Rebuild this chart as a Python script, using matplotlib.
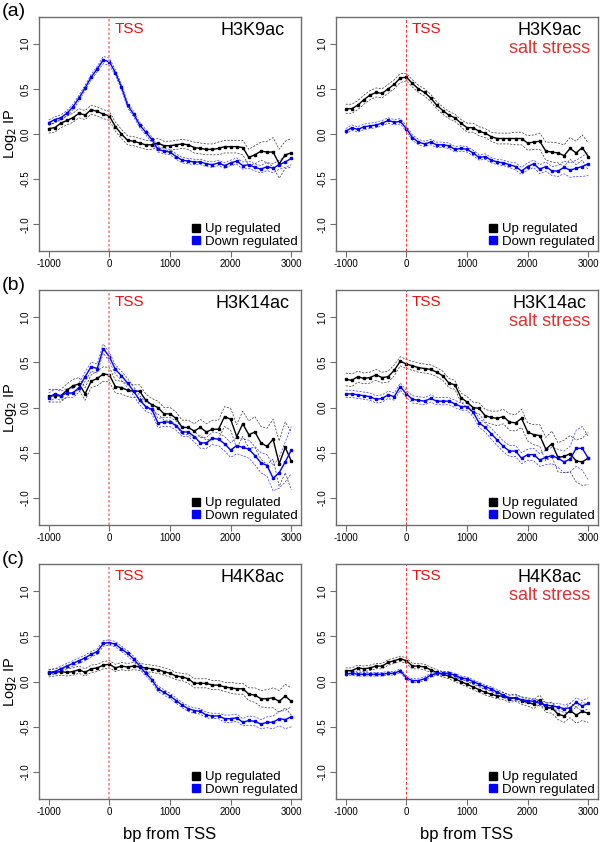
import matplotlib
matplotlib.use("Agg")
import matplotlib.pyplot as plt
from matplotlib.lines import Line2D
import numpy as np

plt.rcParams['font.family'] = ['Liberation Sans', 'DejaVu Sans']

# Positions relative to the TSS (bp)
bp = list(range(-1000, 3001, 100))

# (a) H3K9ac, control
a_up = [0.06, 0.07, 0.12, 0.15, 0.18, 0.23, 0.21, 0.27, 0.25, 0.22, 0.20, 0.08, 0.00, -0.07,
        -0.08, -0.10, -0.12, -0.12, -0.10, -0.13, -0.13, -0.12, -0.11, -0.12, -0.15, -0.16,
        -0.17, -0.17, -0.16, -0.14, -0.14, -0.14, -0.15, -0.26, -0.23, -0.19, -0.20, -0.20,
        -0.33, -0.23, -0.21]
a_up_se = [0.05, 0.05, 0.05, 0.05, 0.05, 0.05, 0.05, 0.05, 0.05, 0.05, 0.05, 0.05, 0.05, 0.05,
           0.05, 0.05, 0.05, 0.05, 0.05, 0.05, 0.05, 0.05, 0.05, 0.05, 0.06, 0.06, 0.06, 0.06,
           0.07, 0.07, 0.07, 0.07, 0.08, 0.09, 0.10, 0.10, 0.12, 0.16, 0.16, 0.15, 0.16]
a_down = [0.125, 0.16, 0.18, 0.23, 0.30, 0.40, 0.51, 0.63, 0.72, 0.82, 0.80, 0.68, 0.52, 0.32,
          0.22, 0.10, 0.02, -0.06, -0.17, -0.19, -0.20, -0.25, -0.29, -0.30, -0.31, -0.31,
          -0.33, -0.34, -0.32, -0.35, -0.32, -0.30, -0.35, -0.34, -0.37, -0.39, -0.36, -0.38,
          -0.34, -0.31, -0.27]
a_down_se = [0.03, 0.03, 0.03, 0.03, 0.03, 0.03, 0.03, 0.03, 0.03, 0.04, 0.04, 0.03, 0.03, 0.03,
             0.03, 0.03, 0.03, 0.03, 0.03, 0.03, 0.03, 0.03, 0.03, 0.03, 0.03, 0.03, 0.03, 0.03,
             0.03, 0.03, 0.03, 0.035, 0.04, 0.04, 0.04, 0.04, 0.045, 0.05, 0.05, 0.06, 0.07]

# (a) H3K9ac, salt stress
as_up = [0.28, 0.28, 0.32, 0.38, 0.43, 0.46, 0.45, 0.50, 0.55, 0.62, 0.63, 0.56, 0.50, 0.46,
         0.40, 0.32, 0.26, 0.21, 0.18, 0.12, 0.07, 0.07, 0.03, 0.01, -0.03, -0.05, -0.05, -0.05,
         -0.05, -0.05, -0.10, -0.09, -0.08, -0.19, -0.20, -0.21, -0.24, -0.16, -0.21, -0.15,
         -0.25]
as_up_se = [0.05, 0.05, 0.05, 0.05, 0.05, 0.05, 0.05, 0.05, 0.05, 0.05, 0.04, 0.04, 0.04, 0.04,
            0.04, 0.04, 0.04, 0.04, 0.04, 0.04, 0.05, 0.05, 0.05, 0.05, 0.05, 0.06, 0.06, 0.06,
            0.07, 0.07, 0.08, 0.08, 0.09, 0.10, 0.11, 0.11, 0.12, 0.12, 0.13, 0.14, 0.15]
as_down = [0.03, 0.07, 0.05, 0.08, 0.09, 0.10, 0.12, 0.15, 0.13, 0.14, 0.06, -0.04, -0.09,
           -0.11, -0.09, -0.12, -0.12, -0.13, -0.17, -0.16, -0.17, -0.21, -0.26, -0.25, -0.29,
           -0.31, -0.32, -0.34, -0.36, -0.41, -0.36, -0.33, -0.39, -0.36, -0.41, -0.41, -0.37,
           -0.40, -0.38, -0.36, -0.33]
as_down_se = [0.03, 0.03, 0.03, 0.03, 0.03, 0.03, 0.03, 0.03, 0.03, 0.03, 0.03, 0.03, 0.03, 0.03,
              0.03, 0.03, 0.03, 0.03, 0.03, 0.03, 0.03, 0.03, 0.03, 0.03, 0.03, 0.03, 0.03, 0.03,
              0.04, 0.04, 0.04, 0.04, 0.05, 0.05, 0.05, 0.06, 0.07, 0.08, 0.09, 0.11, 0.13]

# (b) H3K14ac, control
b_up = [0.13, 0.13, 0.13, 0.19, 0.24, 0.26, 0.15, 0.29, 0.32, 0.37, 0.36, 0.23, 0.22, 0.19,
        0.18, 0.18, 0.08, 0.03, 0.00, -0.07, -0.07, -0.12, -0.22, -0.22, -0.26, -0.22, -0.27,
        -0.24, -0.24, -0.10, -0.13, -0.32, -0.18, -0.30, -0.27, -0.39, -0.43, -0.35, -0.62,
        -0.44, -0.59]
b_up_se = [0.07, 0.07, 0.07, 0.07, 0.07, 0.07, 0.07, 0.07, 0.08, 0.08, 0.08, 0.07, 0.07, 0.07,
           0.07, 0.07, 0.07, 0.07, 0.07, 0.07, 0.07, 0.07, 0.08, 0.08, 0.08, 0.09, 0.09, 0.10,
           0.10, 0.11, 0.12, 0.13, 0.14, 0.15, 0.17, 0.18, 0.20, 0.22, 0.25, 0.28, 0.32]
b_down = [0.11, 0.15, 0.13, 0.16, 0.16, 0.22, 0.34, 0.45, 0.43, 0.65, 0.56, 0.42, 0.35, 0.27,
          0.18, 0.08, 0.01, -0.02, -0.17, -0.16, -0.16, -0.20, -0.27, -0.27, -0.32, -0.39,
          -0.39, -0.34, -0.35, -0.40, -0.47, -0.42, -0.44, -0.46, -0.53, -0.61, -0.64, -0.78,
          -0.72, -0.60, -0.47]
b_down_se = [0.05, 0.05, 0.05, 0.05, 0.05, 0.05, 0.05, 0.05, 0.05, 0.05, 0.05, 0.05, 0.05, 0.05,
             0.05, 0.05, 0.05, 0.05, 0.05, 0.05, 0.05, 0.05, 0.05, 0.05, 0.06, 0.06, 0.06, 0.07,
             0.07, 0.08, 0.08, 0.09, 0.09, 0.10, 0.10, 0.11, 0.12, 0.14, 0.17, 0.22, 0.26]

# (b) H3K14ac, salt stress
bs_up = [0.31, 0.30, 0.34, 0.32, 0.33, 0.36, 0.33, 0.34, 0.41, 0.51, 0.48, 0.46, 0.44, 0.43,
         0.42, 0.39, 0.35, 0.27, 0.25, 0.11, 0.06, 0.00, -0.01, -0.09, -0.11, -0.12, -0.10,
         -0.16, -0.17, -0.12, -0.27, -0.30, -0.31, -0.46, -0.40, -0.55, -0.54, -0.51, -0.59,
         -0.60, -0.56]
bs_up_se = [0.07, 0.07, 0.06, 0.06, 0.06, 0.06, 0.06, 0.06, 0.06, 0.05, 0.05, 0.05, 0.05, 0.05,
            0.05, 0.05, 0.05, 0.05, 0.05, 0.05, 0.06, 0.06, 0.06, 0.07, 0.07, 0.08, 0.08, 0.09,
            0.09, 0.10, 0.10, 0.11, 0.12, 0.13, 0.14, 0.16, 0.18, 0.20, 0.23, 0.26, 0.29]
bs_down = [0.15, 0.15, 0.14, 0.13, 0.12, 0.09, 0.10, 0.14, 0.12, 0.23, 0.15, 0.09, 0.08, 0.07,
           0.10, 0.07, 0.07, 0.07, 0.04, 0.01, 0.01, -0.05, -0.17, -0.22, -0.29, -0.36, -0.43,
           -0.48, -0.48, -0.56, -0.52, -0.52, -0.58, -0.55, -0.53, -0.56, -0.60, -0.57, -0.45,
           -0.45, -0.56]
bs_down_se = [0.04, 0.04, 0.04, 0.04, 0.04, 0.04, 0.04, 0.04, 0.04, 0.04, 0.04, 0.04, 0.04, 0.04,
              0.04, 0.04, 0.04, 0.04, 0.04, 0.04, 0.04, 0.05, 0.05, 0.05, 0.06, 0.06, 0.06, 0.06,
              0.06, 0.06, 0.06, 0.07, 0.07, 0.08, 0.09, 0.10, 0.12, 0.14, 0.20, 0.24, 0.24]

# (c) H4K8ac, control
c_up = [0.09, 0.10, 0.11, 0.10, 0.11, 0.13, 0.10, 0.14, 0.15, 0.18, 0.19, 0.15, 0.17, 0.16,
        0.17, 0.16, 0.15, 0.14, 0.13, 0.11, 0.09, 0.06, 0.05, 0.03, -0.02, -0.02, -0.02, -0.04,
        -0.04, -0.06, -0.07, -0.08, -0.08, -0.14, -0.15, -0.19, -0.19, -0.18, -0.22, -0.16,
        -0.22]
c_up_se = [0.04, 0.04, 0.04, 0.04, 0.04, 0.04, 0.04, 0.04, 0.04, 0.04, 0.04, 0.04, 0.04, 0.04,
           0.04, 0.04, 0.04, 0.04, 0.04, 0.04, 0.04, 0.04, 0.04, 0.05, 0.05, 0.05, 0.05, 0.05,
           0.05, 0.05, 0.06, 0.06, 0.06, 0.07, 0.08, 0.09, 0.10, 0.11, 0.12, 0.13, 0.15]
c_down = [0.10, 0.11, 0.14, 0.17, 0.20, 0.23, 0.26, 0.30, 0.33, 0.42, 0.43, 0.41, 0.36, 0.31,
          0.25, 0.17, 0.09, 0.02, -0.08, -0.12, -0.16, -0.21, -0.26, -0.30, -0.32, -0.33, -0.37,
          -0.38, -0.38, -0.41, -0.41, -0.40, -0.45, -0.43, -0.44, -0.47, -0.45, -0.45, -0.41,
          -0.42, -0.39]
c_down_se = [0.03, 0.03, 0.03, 0.03, 0.03, 0.03, 0.03, 0.03, 0.03, 0.03, 0.03, 0.03, 0.03, 0.03,
             0.03, 0.03, 0.03, 0.03, 0.03, 0.03, 0.03, 0.03, 0.03, 0.03, 0.03, 0.03, 0.03, 0.03,
             0.03, 0.04, 0.04, 0.04, 0.04, 0.05, 0.05, 0.05, 0.06, 0.07, 0.08, 0.10, 0.11]

# (c) H4K8ac, salt stress
cs_up = [0.12, 0.12, 0.15, 0.14, 0.15, 0.17, 0.17, 0.21, 0.23, 0.25, 0.23, 0.17, 0.17, 0.16,
         0.13, 0.10, 0.08, 0.06, 0.03, 0.00, -0.03, -0.06, -0.09, -0.12, -0.14, -0.16, -0.16,
         -0.19, -0.18, -0.21, -0.23, -0.25, -0.20, -0.29, -0.29, -0.36, -0.38, -0.32, -0.37,
         -0.33, -0.35]
cs_up_se = [0.03, 0.03, 0.03, 0.03, 0.03, 0.03, 0.03, 0.03, 0.03, 0.03, 0.03, 0.03, 0.03, 0.03,
            0.03, 0.03, 0.03, 0.03, 0.03, 0.03, 0.03, 0.03, 0.03, 0.03, 0.03, 0.03, 0.04, 0.04,
            0.04, 0.04, 0.04, 0.05, 0.05, 0.05, 0.06, 0.06, 0.07, 0.08, 0.09, 0.10, 0.10]
cs_down = [0.08, 0.09, 0.08, 0.08, 0.08, 0.08, 0.08, 0.09, 0.09, 0.12, 0.04, 0.01, 0.01, 0.03,
           0.07, 0.09, 0.09, 0.09, 0.07, 0.04, 0.03, 0.00, -0.03, -0.06, -0.08, -0.12, -0.15,
           -0.18, -0.18, -0.20, -0.21, -0.22, -0.24, -0.26, -0.27, -0.28, -0.30, -0.29, -0.23,
           -0.27, -0.24]
cs_down_se = [0.02, 0.02, 0.02, 0.02, 0.02, 0.02, 0.02, 0.02, 0.02, 0.02, 0.02, 0.02, 0.02, 0.02,
              0.02, 0.02, 0.02, 0.02, 0.02, 0.02, 0.02, 0.02, 0.02, 0.02, 0.02, 0.03, 0.03, 0.03,
              0.03, 0.03, 0.03, 0.03, 0.03, 0.03, 0.03, 0.04, 0.04, 0.05, 0.05, 0.06, 0.06]

panels = [
    ("(a)", "H3K9ac", False, a_up, a_up_se, a_down, a_down_se),
    (None, "H3K9ac", True, as_up, as_up_se, as_down, as_down_se),
    ("(b)", "H3K14ac", False, b_up, b_up_se, b_down, b_down_se),
    (None, "H3K14ac", True, bs_up, bs_up_se, bs_down, bs_down_se),
    ("(c)", "H4K8ac", False, c_up, c_up_se, c_down, c_down_se),
    (None, "H4K8ac", True, cs_up, cs_up_se, cs_down, cs_down_se),
]

BLUE = "#0000FF"
BOX = "#6e6e6e"

fig = plt.figure(figsize=(6.0, 8.42), dpi=100)

# axes boxes in figure pixels (left, top, right, bottom)
col_x = [(39, 301), (336, 598)]
row_y = [(17, 251), (290, 525), (564, 799)]

x = np.array(bp)
for i, (tag, mark, salt, up, up_se, down, down_se) in enumerate(panels):
    r, c = divmod(i, 2)
    l, rr = col_x[c]
    t, b = row_y[r]
    ax = fig.add_axes([l / 600, 1 - b / 842, (rr - l) / 600, (b - t) / 842])

    for vals, se, bcol in [(down, down_se, "#3333FF"), (up, up_se, "#333333")]:
        v = np.array(vals)
        s = np.array(se)
        ax.plot(x, v + s, color=bcol, lw=0.5, ls=(0, (3, 2)))
        ax.plot(x, v - s, color=bcol, lw=0.5, ls=(0, (3, 2)))
    ax.plot(x, up, color="black", lw=1.0, marker="s", ms=1.6)
    ax.plot(x, down, color=BLUE, lw=1.0, marker="s", ms=1.6)

    # TSS line
    if salt:
        ax.axvline(0, color="#FF3333", lw=0.7, ls=(0, (3, 2)))
    else:
        ax.axvline(0, color="#FF8080", lw=1.2, ls=(0, (1.5, 1.2)))
    ax.text(90, 1.16, "TSS", color="#EE1111", fontsize=11, ha="left", va="center")
    ax.text(2360, 1.15, mark, color="black", fontsize=13, ha="center", va="center")
    if salt:
        ax.text(2360, 0.95, "salt stress", color="#E03030", fontsize=13, ha="center", va="center")

    ax.set_xlim(-1160, 3160)
    ax.set_ylim(-1.296, 1.296)
    ax.set_xticks([-1000, 0, 1000, 2000, 3000])
    ax.set_xticklabels(["-1000", "0", "1000", "2000", "3000"])
    ax.set_yticks([-1.0, -0.5, 0.0, 0.5, 1.0])
    ax.set_yticklabels(["-1.0", "-0.5", "0.0", "0.5", "1.0"], rotation=90, va="center")
    ax.tick_params(labelsize=7, length=4, width=0.8, color=BOX, pad=2)
    for sp in ax.spines.values():
        sp.set_color(BOX)
        sp.set_linewidth(1.0)

    handles = [Line2D([], [], ls="none", marker="s", ms=6, color="black"),
               Line2D([], [], ls="none", marker="s", ms=6, color=BLUE)]
    ax.legend(handles, ["Up regulated", "Down regulated"], loc="lower right", frameon=False,
              fontsize=9.5, handletextpad=0.2, handlelength=1.0, labelspacing=0.0,
              borderaxespad=0.05, borderpad=0.2)

    if c == 0:
        ax.set_ylabel("Log$_2$ IP", fontsize=10.5, labelpad=1)
        fig.text(2 / 600, 1 - (t - 5) / 842, tag, fontsize=14, ha="left", va="center")
    if r == 2:
        ax.set_xlabel("bp from TSS", fontsize=12, labelpad=7)

fig.savefig("out.png", dpi=100)
